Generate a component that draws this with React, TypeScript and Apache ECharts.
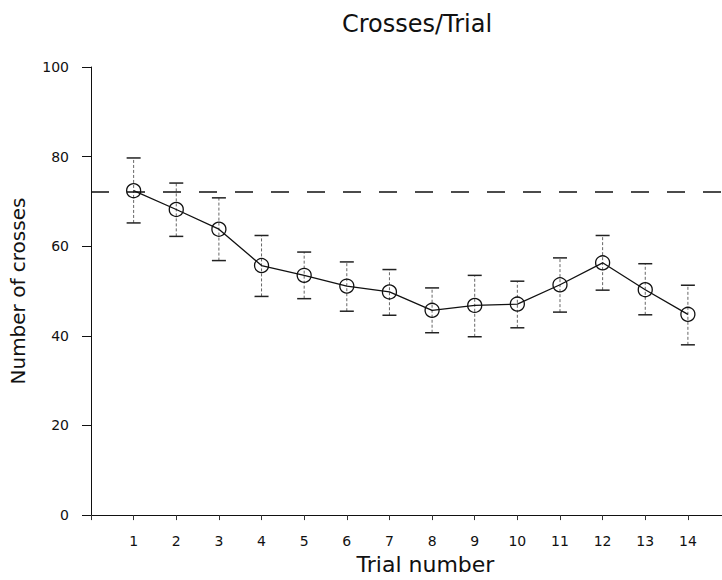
import React, { useEffect, useRef } from "react";
import * as echarts from "echarts";

const trials = [1, 2, 3, 4, 5, 6, 7, 8, 9, 10, 11, 12, 13, 14];
const means = [72.4, 68.2, 63.8, 55.7, 53.5, 51.1, 49.8, 45.7, 46.8, 47.1, 51.4, 56.3, 50.3, 44.8];
const upper = [79.7, 74.1, 70.8, 62.4, 58.7, 56.5, 54.8, 50.7, 53.5, 52.2, 57.4, 62.4, 56.1, 51.3];
const lower = [65.2, 62.2, 56.8, 48.8, 48.3, 45.5, 44.6, 40.7, 39.8, 41.8, 45.3, 50.2, 44.7, 38.0];
const referenceLevel = 72.1;
const yTicks = [0, 20, 40, 60, 80, 100];
const xTickLabels = trials;

const FONT = "'DejaVu Sans', 'Liberation Sans', sans-serif";

export default function App() {
  const ref = useRef<HTMLDivElement>(null);
  useEffect(() => {
    if (!ref.current) return;
    const chart = echarts.init(ref.current, null, { renderer: "svg" });
    const lineData = trials.map((t, i) => [t, means[i]]);
    const errData = trials.map((t, i) => [t, lower[i], upper[i]]);
    chart.setOption({
      animation: false,
      backgroundColor: "#fff",
      title: {
        text: "Crosses/Trial",
        left: 412,
        textAlign: "center",
        top: 7,
        textStyle: { fontFamily: FONT, fontSize: 24, fontWeight: "normal", color: "#111" },
      },
      grid: { left: 90, right: 0, top: 67, bottom: 64, containLabel: false },
      xAxis: {
        type: "value",
        min: 0,
        max: 14.8,
        interval: 1,
        name: "Trial number",
        nameLocation: "middle",
        nameGap: 34,
        nameTextStyle: { fontFamily: FONT, fontSize: 22, color: "#111", padding: [0, 0, 0, 38] },
        axisLine: { show: true, onZero: false, lineStyle: { color: "#111", width: 1 } },
        axisTick: { show: true, inside: false, length: 5, lineStyle: { color: "#333" }, customValues: [0, ...xTickLabels] },
        axisLabel: {
          fontFamily: FONT,
          fontSize: 14,
          color: "#111",
          margin: 19,
          customValues: xTickLabels,
        },
        splitLine: { show: false },
      },
      yAxis: {
        type: "value",
        min: 0,
        max: 100,
        interval: 20,
        name: "Number of crosses",
        nameLocation: "middle",
        nameGap: 63,
        nameTextStyle: { fontFamily: FONT, fontSize: 20, color: "#111" },
        axisLine: { show: true, onZero: false, lineStyle: { color: "#111", width: 1 } },
        axisTick: { show: true, inside: false, length: 9, lineStyle: { color: "#111" }, customValues: yTicks },
        axisLabel: { fontFamily: FONT, fontSize: 14, color: "#111", margin: 22, customValues: yTicks },
        splitLine: { show: false },
      },
      series: [
        {
          type: "custom",
          data: errData,
          encode: { x: 0, y: [1, 2] },
          z: 1,
          renderItem: (params: any, api: any) => {
            const x = api.value(0);
            const lo = api.coord([x, api.value(1)]);
            const hi = api.coord([x, api.value(2)]);
            const hw = 7;
            const style = { stroke: "#222", lineWidth: 1.5 };
            return {
              type: "group",
              children: [
                { type: "line", shape: { x1: lo[0], y1: lo[1], x2: hi[0], y2: hi[1] }, style: { stroke: "#666", lineWidth: 1, lineDash: [3, 2] } },
                { type: "line", shape: { x1: hi[0] - hw, y1: hi[1], x2: hi[0] + hw, y2: hi[1] }, style },
                { type: "line", shape: { x1: lo[0] - hw, y1: lo[1], x2: lo[0] + hw, y2: lo[1] }, style },
              ],
            };
          },
        },
        {
          type: "line",
          data: lineData,
          symbol: "circle",
          symbolSize: 14,
          z: 3,
          lineStyle: { color: "#111", width: 1.3 },
          itemStyle: { color: "rgba(255,255,255,0)", borderColor: "#111", borderWidth: 1.3 },
          markLine: {
            silent: true,
            symbol: "none",
            label: { show: false },
            lineStyle: { color: "#111", width: 1.6, type: [18, 18] },
            data: [{ yAxis: referenceLevel }],
          },
        },
      ],
    });
    return () => chart.dispose();
  }, []);
  return <div ref={ref} style={{ width: 722, height: 580, position: "absolute", left: 0, top: 0 }} />;
}
